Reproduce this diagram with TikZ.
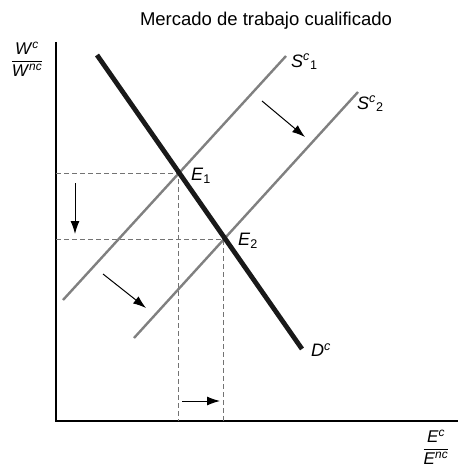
\documentclass[tikz,border=0pt]{standalone}
\usepackage{fontspec}
\setmainfont{Liberation Sans}
\usetikzlibrary{arrows.meta}
\begin{document}
\begin{tikzpicture}[x=1pt,y=-1pt,
  axis/.style={line width=1.2pt, draw=black},
  supply/.style={line width=2.4pt, draw=black!50},
  demand/.style={line width=4.8pt, draw=black!90},
  guide/.style={dash pattern=on 5pt off 3pt, draw=black!55, line width=0.9pt},
  shiftarrow/.style={line width=1pt, draw=black, -{Latex[length=13pt,width=9pt]}},
  lbl/.style={font=\fontsize{18}{20}\selectfont, inner sep=0pt},
  frac/.style={font=\fontsize{17}{19}\selectfont, inner sep=0pt},
  ttl/.style={font=\fontsize{18.5}{21}\selectfont, inner sep=0pt}]
\useasboundingbox (0,0) rectangle (458,468);
% axes
\coordinate (Ytop) at (56,42);
\coordinate (O) at (56,421);
\coordinate (Xend) at (458,421);
\draw[axis] (Ytop) -- (O) -- (Xend);
% equilibrium points
\coordinate (E1) at (178,173);
\coordinate (E2) at (223,239);
\coordinate (Y1) at (56,173);
\coordinate (Y2) at (56,239);
\coordinate (X1) at (178,421);
\coordinate (X2) at (223,421);
% guides
\draw[guide] (Y1) -- (E1) -- (X1);
\draw[guide] (Y2) -- (E2) -- (X2);
% supply curves
\coordinate (S1a) at (63,300);
\coordinate (S1b) at (286,56);
\coordinate (S2a) at (134,338);
\coordinate (S2b) at (358,92);
\draw[supply] (S1a) -- (S1b);
\draw[supply] (S2a) -- (S2b);
% demand curve
\coordinate (Da) at (97,55);
\coordinate (Db) at (302,349);
\draw[demand] (Da) -- (Db);
% shift arrows
\coordinate (A1s) at (75,183); \coordinate (A1e) at (75,234);
\coordinate (A2s) at (182,401); \coordinate (A2e) at (220,401);
\coordinate (A3s) at (262,101); \coordinate (A3e) at (305,137);
\coordinate (A4s) at (103,274); \coordinate (A4e) at (146,308);
\draw[shiftarrow] (A1s) -- (A1e);
\draw[shiftarrow] (A2s) -- (A2e);
\draw[shiftarrow] (A3s) -- (A3e);
\draw[shiftarrow] (A4s) -- (A4e);
% labels
\node[ttl] (title) at (266,21) {Mercado de trabajo cualificado};
\node[lbl, anchor=west] (s1lab) at (291,62) {\textit{S}\textsuperscript{\textit{c}}\textsubscript{1}};
\node[lbl, anchor=west] (s2lab) at (357,104) {\textit{S}\textsuperscript{\textit{c}}\textsubscript{2}};
\node[lbl, anchor=west] (e1lab) at (191,176) {\textit{E}\textsubscript{1}};
\node[lbl, anchor=west] (e2lab) at (238,241) {\textit{E}\textsubscript{2}};
\node[lbl, anchor=west] (dlab) at (311,350) {\textit{D}\textsuperscript{\textit{c}}};
\node[frac] (wlab) at (27,62) {\begin{tabular}{@{}c@{}}\textit{W}\textsuperscript{\textit{c}}\\[1pt]\hline\rule{0pt}{15pt}\textit{W}\textsuperscript{\textit{nc}}\end{tabular}};
\node[frac] (elab) at (436,450) {\begin{tabular}{@{}c@{}}\textit{E}\textsuperscript{\textit{c}}\\[1pt]\hline\rule{0pt}{15pt}\textit{E}\textsuperscript{\textit{nc}}\end{tabular}};
\end{tikzpicture}
\end{document}
